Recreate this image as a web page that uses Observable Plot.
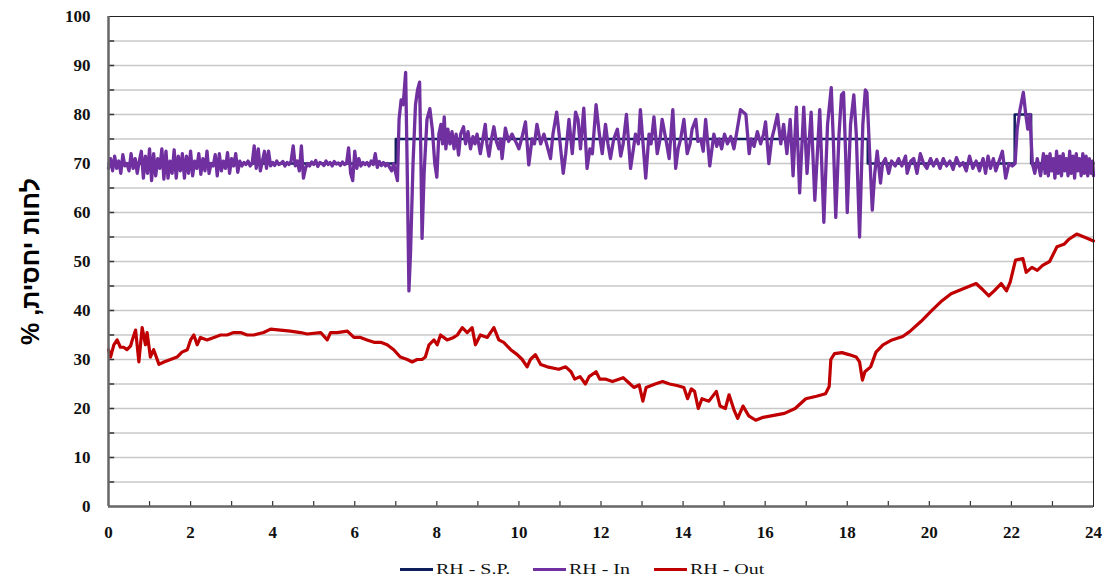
<!DOCTYPE html>
<html><head><meta charset="utf-8">
<script src="https://cdn.jsdelivr.net/npm/d3@7"></script>
<script src="https://cdn.jsdelivr.net/npm/@observablehq/plot@0.6"></script>
<style>
body{margin:0;background:#fff;width:1108px;height:581px;overflow:hidden;position:relative;}
#chart svg, #chart svg text{font-family:"Liberation Serif","Times New Roman","DejaVu Serif",serif !important;}
#chart svg text.ylab{font-family:"Liberation Sans","DejaVu Sans",sans-serif !important;}
#legend{position:absolute;left:0;top:545px;width:1108px;height:36px;font-family:"Liberation Serif","Times New Roman","DejaVu Serif",serif;font-size:15px;color:#111;}
.item{position:absolute;top:15px;display:flex;align-items:center;height:18px;}
.sw{width:33px;height:3px;margin-right:3px;}
.lt{display:inline-block;transform:scaleX(1.33);transform-origin:left center;white-space:nowrap;}
</style></head><body><div id="chart"></div><div id="legend"></div>
<script>
// ---- data ----
const yTicks = [0,10,20,30,40,50,60,70,80,90,100];
const yGrid = [5,10,15,20,25,30,35,40,45,50,55,60,65,70,75,80,85,90,95];
const xTicks = [0,2,4,6,8,10,12,14,16,18,20,22,24];
const xMinor = [1,2,3,4,5,6,7,8,9,10,11,12,13,14,15,16,17,18,19,20,21,22,23];
const yLabel = "לחות יחסית, %";
const seriesNames = ["RH - S.P.", "RH - In", "RH - Out"];
const seriesColors = ["#0f1f5c", "#7030a0", "#c00000"];

// set point (step changes)
const spHours = [0, 7, 18.5, 22.08, 22.48, 24];
const spValues = [70, 75, 70, 80, 70, 70];

// RH - In, first 7 hours sampled every 0.05 h
const inValuesA = [
 69,71,68.5,71.5,69,70.5,68,71.8,69.5,70,68.5,72,69,71,68,70.5,
 72.5,67,71.5,68,73,66.5,72,67.5,71,69,73,66.8,72.5,67,70.5,68,72.8,67,71.5,68.5,72,67,
 71.5,68,72.5,67.5,70.5,69,72,67.8,71,68.5,72.5,68,70,69.5,71.8,67.5,72,68.5,70.5,69,72.2,68,71,69.5,72,68.2,
 70.5,69.5,70.2,69.8,70.5,69.5,70,
 73.6,69,73,68.5,70.5,72.5,69,72.5,69.5,
 70.2,69.6,70.5,69.8,70,70.4,69.5,70.2,69.8,70.5,
 73.6,69.5,70.5,68.5,73.6,67,69,
 70,69.5,70.3,69.8,70.6,69.4,70.2,70,69.6,70.5,69.8,70.2,69.5,70.4,69.9,70.1,69.6,70.3,69.8,70,
 73.2,68,66.5,72.5,69,71,69.5,70.2,69.8,
 70.2,69.5,70.5,69.8,72,69.2,70.4,69.6,70.2,69.5,70,69.2,68.5,70
];
const inHoursA = d3.range(inValuesA.length).map(i => i * 0.05);

// RH - In from 7 h on
const inHoursB = [
 7.00,7.04,7.08,7.13,7.18,7.24,7.28,7.32,7.36,7.42,
 7.48,7.53,7.58,7.61,7.64,7.69,7.76,7.83,7.89,7.95,
 8.00,8.05,8.10,8.14,8.18,8.22,8.27,8.32,8.37,8.42,
 8.47,8.53,8.58,8.65,8.70,8.76,8.82,8.88,8.93,8.98,
 9.02,9.06,9.12,9.18,9.22,9.27,9.33,9.39,9.45,9.51,
 9.55,9.59,9.67,9.75,9.83,9.92,10.00,10.08,10.16,10.24,
 10.32,10.38,10.44,10.53,10.61,10.69,10.77,10.83,10.92,10.98,
 11.08,11.14,11.22,11.30,11.38,11.44,11.50,11.58,11.66,11.73,
 11.79,11.88,11.96,12.03,12.11,12.17,12.23,12.31,12.40,12.48,
 12.54,12.62,12.72,12.79,12.84,12.91,12.96,13.09,13.17,13.22,
 13.29,13.37,13.44,13.49,13.60,13.66,13.75,13.82,13.88,13.94,
 14.02,14.10,14.17,14.22,14.31,14.36,14.43,14.49,14.55,14.65,
 14.75,14.82,14.88,14.94,15.01,15.08,15.16,15.24,15.32,15.40,
 15.53,15.61,15.66,15.73,15.81,15.89,15.96,16.01,16.09,16.16,
 16.22,16.30,16.38,16.45,16.53,16.61,16.68,16.76,16.84,16.94,
 17.02,17.12,17.21,17.33,17.43,17.52,17.61,17.66,17.72,17.80,
 17.86,17.91,17.96,18.00,18.08,18.16,18.22,18.30,18.38,18.44,
 18.48,18.53,18.61,18.67,18.73,18.81,18.86,18.93,19.01,19.08,
 19.17,19.25,19.33,19.42,19.46,19.55,19.62,19.70,19.78,19.86,
 19.94,20.03,20.10,20.18,20.26,20.34,20.42,20.50,20.58,20.66,
 20.74,20.82,20.90,20.98,21.06,21.14,21.22,21.31,21.37,21.43,
 21.49,21.56,21.62,21.70,21.78,21.86,21.94,22.02,22.09,22.14,
 22.21,22.29,22.35,22.40,22.45,22.51,22.57,22.63,22.71,22.78,
 22.82,22.86,22.90,22.94,22.98,23.02,23.06,23.10,23.14,23.18,
 23.22,23.26,23.30,23.34,23.38,23.42,23.46,23.50,23.54,23.58,
 23.62,23.66,23.70,23.74,23.78,23.82,23.86,23.90,23.94,23.98,24.00
];
const inValuesB = [
 68,66.5,79,83,82,88.6,68,44,52,70,
 82,85,86.6,72,54.7,68,79,81.2,77,70,
 67.2,76,78,74,79.5,73,77,74,76.5,73,
 76,71.7,76,77.5,74,76.5,73,75.5,74,76,
 74,72,75,78,74,71.5,75,77.5,74.5,73,
 75,71,77.2,74.5,76,74.5,73,75.5,78.5,69.7,
 75,74,78,74,76,73.5,71,76,80.5,76,
 68,72,79,72,80.5,79,73,81.3,69,73,
 72,82,76,72,78,74,71,75,77,71.5,
 74,80,69,73,76,74,81,67,76,74,
 79.5,72,75,79,74,71,81,69,73,75,
 79,72,74,77,79,74.5,75,72.5,79,69.5,
 76,73.5,75,73,76,74,75.5,73,77,81,
 80,72,75,73.5,76.5,74,76,78.5,70,75,
 77,80,74,78,72,79,67.5,81.5,64,81.5,
 68,80.5,62.5,81,58,78,85.5,75,59,76,
 84,84.5,72,60,78,84,76,55,78,85,
 84.5,75,60.5,68,72.5,66,70,71,68,70.5,
 69.5,71,69.5,71.5,68,70.5,71,68,72,70,
 69,71,69.5,70.8,69,71,69.5,70.5,68.8,71.2,
 69.5,70.2,68.5,71.5,69,70.5,68.5,71,68,71.5,
 69,71,68.5,70.5,72.5,67,70,69.5,70,77,
 81,84.5,80,77,80,70,68,71,67.5,72,
 68,71.5,67.5,72,68.5,71,67,72.5,68,71.5,
 67.5,72,68.5,71,67.5,72.5,68,71.5,67,72,
 68.5,71,67.5,72,68,71.5,67.5,71,68,70.5,67.5
];

// RH - Out
const outHours = [
 0.00,0.05,0.13,0.21,0.29,0.37,0.45,0.54,0.58,0.66,
 0.74,0.82,0.90,0.94,1.02,1.10,1.23,1.35,1.51,1.67,
 1.79,1.92,2.00,2.08,2.16,2.24,2.40,2.57,2.73,2.89,
 3.05,3.22,3.38,3.54,3.78,3.95,4.19,4.43,4.68,4.84,
 5.17,5.33,5.41,5.57,5.82,5.98,6.14,6.30,6.47,6.63,
 6.79,6.95,7.11,7.28,7.40,7.52,7.64,7.72,7.81,7.93,
 8.01,8.09,8.25,8.41,8.50,8.62,8.74,8.86,8.94,9.06,
 9.23,9.39,9.51,9.63,9.80,9.96,10.08,10.20,10.28,10.40,
 10.53,10.69,10.97,11.14,11.27,11.36,11.49,11.62,11.71,11.88,
 11.97,12.10,12.28,12.54,12.67,12.80,12.93,13.02,13.10,13.32,
 13.50,13.67,13.85,14.02,14.11,14.20,14.28,14.37,14.46,14.63,
 14.81,14.90,15.03,15.12,15.25,15.33,15.46,15.60,15.77,15.95,
 16.21,16.47,16.73,16.99,17.25,17.47,17.56,17.60,17.69,17.87,
 18.04,18.22,18.30,18.37,18.43,18.57,18.70,18.87,19.09,19.35,
 19.52,19.80,20.05,20.31,20.53,20.84,21.14,21.27,21.45,21.58,
 21.75,21.88,21.97,22.10,22.28,22.36,22.50,22.63,22.76,22.93,
 23.11,23.28,23.41,23.59,23.80,24.00
];
const outValues = [
 32,30.5,33,34,32.5,32.5,32,32.8,34,36,
 29.5,36.5,33,35.5,30.5,32,29,29.5,30,30.5,
 31.5,32,34,35,33,34.5,34,34.5,35,35,
 35.5,35.5,35,35,35.5,36.2,36,35.8,35.5,35.2,
 35.5,34,35.5,35.5,35.8,34.5,34.5,34,33.5,33.5,
 33,32,30.5,30,29.5,30,30,30.5,33,34,
 33,35,34,34.5,35,36.5,35.5,36.5,33,35,
 34.5,36.5,34,33.5,32,31,30,28.5,30,31,
 29,28.5,28,28.5,27.5,26,26.5,25,26.5,27.5,
 26,26,25.5,26.3,25.3,24.3,24.8,21.5,24.3,25,
 25.5,25,24.7,24.3,22,24,23.5,20,22,21.5,
 23.5,20.5,20,22.8,19.5,18,20.5,18.5,17.6,18.2,
 18.6,19,20,22,22.5,23,24.5,30,31.2,31.4,
 31,30.5,29.5,25.8,27.5,28.5,31.5,33,34,34.7,
 35.7,37.8,39.9,42,43.4,44.5,45.5,44.5,43,44,
 45.5,44,45.8,50.3,50.6,47.8,48.8,48.2,49.2,50,
 53,53.5,54.6,55.6,54.9,54.2
];

// ---- tables ----
const sp = spHours.map((h, i) => ({h, v: spValues[i]}));
const inHours = inHoursA.concat(inHoursB);
const inValues = inValuesA.concat(inValuesB);
const inData = inHours.map((h, i) => ({h, v: inValues[i]}));
const outData = outHours.map((h, i) => ({h, v: outValues[i]}));

const chart = Plot.plot({
  width: 1108, height: 545,
  marginTop: 16, marginBottom: 39, marginLeft: 108, marginRight: 15,
  x: {domain: [0, 24]},
  y: {domain: [0, 100]},
  style: {fontFamily: "Liberation Serif, Times New Roman, serif", fontSize: "17px", fontWeight: "bold", color: "#111", background: "#fff"},
  marks: [
    Plot.ruleY(yGrid, {stroke: "#c8c8c8", strokeWidth: 1.5}),
    Plot.ruleY(yGrid, {x1: 0, x2: 0.15, stroke: "#333", strokeWidth: 1.5}),
    Plot.ruleX(xMinor, {y1: 0, y2: 1, stroke: "#333", strokeWidth: 1.2}),
    Plot.line(sp, {x: "h", y: "v", curve: "step-after", stroke: seriesColors[0], strokeWidth: 2.5}),
    Plot.line(inData, {x: "h", y: "v", stroke: seriesColors[1], strokeWidth: 3.3}),
    Plot.line(outData, {x: "h", y: "v", stroke: seriesColors[2], strokeWidth: 3.2}),
    Plot.frame({stroke: "#222", strokeWidth: 1}),
    Plot.ruleX([0], {stroke: "#666", strokeWidth: 2.5}),
    Plot.ruleY([0], {stroke: "#666", strokeWidth: 2.5}),
    Plot.axisY({ticks: yTicks, tickSize: 0, tickPadding: 18, label: null}),
    Plot.axisX({ticks: xTicks, tickSize: 0, tickPadding: 19, label: null}),
    Plot.text([yLabel], {frameAnchor: "left", dx: -78, rotate: -90, textAnchor: "middle",
      fontSize: 25, fontWeight: "bold", fill: "#000", text: d => d})
  ]
});
d3.select(chart).selectAll("text").filter(function() { return this.textContent === yLabel; })
  .attr("class", "ylab").attr("direction", "rtl").style("direction", "rtl");
document.getElementById("chart").appendChild(chart);

const legend = document.getElementById("legend");
const legendLeft = [400, 533, 654];
seriesNames.forEach((name, i) => {
  const item = document.createElement("div");
  item.className = "item";
  item.style.left = legendLeft[i] + "px";
  const sw = document.createElement("span");
  sw.className = "sw";
  sw.style.background = seriesColors[i];
  const t = document.createElement("span");
  t.className = "lt";
  t.textContent = name;
  item.appendChild(sw); item.appendChild(t);
  legend.appendChild(item);
});
</script></body></html>
